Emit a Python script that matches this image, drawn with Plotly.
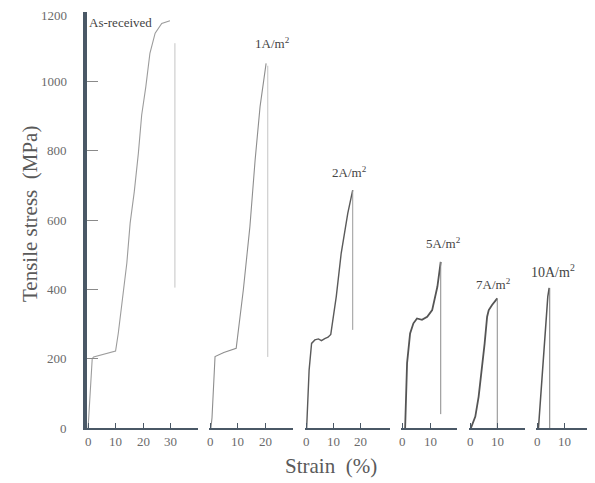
import plotly.graph_objects as go

# ---------------- data (strain %, tensile stress MPa) ----------------
ar_strain = [0, 1.5, 2.0, 6.0, 10.0, 11.0, 12.8, 14.1, 15.3, 16.8, 18.3, 19.5, 21.0, 22.5, 24.4, 26.8, 29.8]
ar_stress = [0, 200, 205, 214, 222, 274, 398, 476, 591, 681, 793, 903, 984, 1081, 1139, 1167, 1175]
ar_break_strain = [31.6, 31.6]
ar_break_stress = [1110, 405]

a1_strain = [0.3, 0.7, 1.8, 5.0, 9.5, 12.1, 14.5, 16.4, 18.2, 20.4]
a1_stress = [0, 30, 206, 218, 230, 398, 581, 773, 927, 1052]
a1_break_strain = [21.0, 21.0]
a1_break_stress = [1045, 205]

a2_strain = [0.2, 1.1, 2.0, 3.2, 4.5, 5.6, 6.8, 8.0, 9.0, 11.0, 12.8, 15.2, 17.0]
a2_stress = [0, 167, 244, 254, 257, 252, 258, 262, 270, 379, 504, 619, 686]
a2_break_strain = [17.0, 17.0]
a2_break_stress = [686, 283]

a5_strain = [0.8, 1.5, 2.6, 3.8, 5.1, 6.9, 8.8, 10.6, 12.5, 13.7]
a5_stress = [0, 187, 273, 302, 316, 312, 321, 340, 408, 479]
a5_break_strain = [13.7, 13.7]
a5_break_stress = [479, 40]

a7_strain = [0.3, 1.9, 3.1, 4.3, 5.3, 6.2, 6.8, 8.0, 9.3, 9.9]
a7_stress = [0, 33, 90, 167, 244, 321, 340, 355, 369, 374]
a7_break_strain = [9.9, 9.9]
a7_break_stress = [374, 0]

a10_strain = [0.5, 1.7, 2.9, 3.9, 4.4]
a10_stress = [0, 138, 283, 379, 404]
a10_break_strain = [4.6, 4.6]
a10_break_stress = [404, 0]

labels = ["As-received", "1A/m<sup>2</sup>", "2A/m<sup>2</sup>", "5A/m<sup>2</sup>", "7A/m<sup>2</sup>", "10A/m<sup>2</sup>"]
y_ticks = [0, 200, 400, 600, 800, 1000, 1200]
x_ticks = [[0, 10, 20, 30], [0, 10, 20], [0, 10, 20], [0, 10], [0, 10], [0, 10]]

# ---------------- figure ----------------
# the page body has an 8px margin, so the figure is laid out in window pixels minus 8
OFF = 8
W, H = 595 - OFF, 483 - OFF


def px(xw):
    return (xw - OFF) / W


def py(yw):
    return (H - (yw - OFF)) / H


fig = go.Figure()

series = [
    (ar_strain, ar_stress, ar_break_strain, ar_break_stress, "x", "#9c9c9c", 1.1, "#c4c4c4"),
    (a1_strain, a1_stress, a1_break_strain, a1_break_stress, "x2", "#8e8e8e", 1.1, "#c4c4c4"),
    (a2_strain, a2_stress, a2_break_strain, a2_break_stress, "x3", "#5a5a5a", 1.4, "#9a9a9a"),
    (a5_strain, a5_stress, a5_break_strain, a5_break_stress, "x4", "#555555", 1.8, "#8a8a8a"),
    (a7_strain, a7_stress, a7_break_strain, a7_break_stress, "x5", "#555555", 1.8, "#8a8a8a"),
    (a10_strain, a10_stress, a10_break_strain, a10_break_stress, "x6", "#555555", 1.5, "#7a7a7a"),
]
for sx, sy, bx, by, xa, col, w, bcol in series:
    fig.add_trace(go.Scatter(x=sx, y=sy, xaxis=xa, yaxis="y", mode="lines",
                             line=dict(color=col, width=w), showlegend=False,
                             hoverinfo="skip"))
    fig.add_trace(go.Scatter(x=bx, y=by, xaxis=xa, yaxis="y", mode="lines",
                             line=dict(color=bcol, width=1), showlegend=False,
                             hoverinfo="skip"))

axis_col = "#4a5866"
font_family = "Liberation Serif, Times New Roman, serif"
tick_font = dict(family=font_family, size=13, color="#6a6a6a")

# window-pixel extents (left, right) and ranges for each panel
panels = [
    ((87, 198), [-0.4, 40]),
    ((209, 293), [-0.4, 30.2]),
    ((305, 390), [-0.4, 30.6]),
    ((401, 457), [-0.7, 19.6]),
    ((469, 525), [-0.4, 20]),
    ((536, 592), [-0.4, 20]),
]
layout = {}
annotations = []
for i, ((l, r), rng) in enumerate(panels):
    name = "xaxis" if i == 0 else f"xaxis{i+1}"
    ref = "x" if i == 0 else f"x{i+1}"
    layout[name] = dict(
        domain=[px(l), min(px(r), 1.0)], range=rng, anchor="y",
        showline=True, linecolor=axis_col, linewidth=2,
        ticks="inside", ticklen=5, tickwidth=1.3, tickcolor=axis_col,
        tickmode="array", tickvals=x_ticks[i], showticklabels=False,
        showgrid=False, zeroline=False, automargin=False, fixedrange=True,
    )
    for v in x_ticks[i]:
        annotations.append(dict(text=str(v), x=v, xref=ref, y=py(441), yref="paper",
                                xanchor="center", yanchor="middle", showarrow=False,
                                font=tick_font))

layout["yaxis"] = dict(
    domain=[py(428), py(12)], range=[0, 1200], anchor="x",
    showline=True, linecolor=axis_col, linewidth=3.5,
    ticks="inside", ticklen=11, tickwidth=1, tickcolor="#8a8a8a",
    tickmode="array", tickvals=y_ticks, showticklabels=False,
    showgrid=False, zeroline=False, automargin=False, fixedrange=True,
)
# y tick labels (the top one nudged down so it stays inside the page)
for v in y_ticks:
    annotations.append(dict(text=str(v), x=px(69), xref="paper", y=v, yref="y",
                            xanchor="right", yanchor="middle", showarrow=False,
                            yshift=-3 if v == y_ticks[-1] else 0, font=tick_font))

lab_font = dict(family=font_family, size=13, color="#444444")
texts = [
    dict(text=labels[0], x=px(87), y=py(23), xanchor="left", yanchor="middle",
         font=dict(family=font_family, size=13, color="#444444")),
    dict(text=labels[1], x=px(272), y=py(43), xanchor="center", yanchor="middle", font=lab_font),
    dict(text=labels[2], x=px(349), y=py(172), xanchor="center", yanchor="middle", font=lab_font),
    dict(text=labels[3], x=px(443), y=py(243), xanchor="center", yanchor="middle", font=lab_font),
    dict(text=labels[4], x=px(493), y=py(284), xanchor="center", yanchor="middle", font=lab_font),
    dict(text=labels[5], x=px(553), y=py(271), xanchor="center", yanchor="middle",
         font=dict(family=font_family, size=14, color="#444444")),
    dict(text="Tensile stress  (MPa)", x=px(30), y=py(214), textangle=-90,
         xanchor="center", yanchor="middle",
         font=dict(family=font_family, size=21, color="#5a5a5a")),
    dict(text="Strain  (%)", x=px(331), y=py(466), xanchor="center", yanchor="middle",
         font=dict(family=font_family, size=21, color="#5a5a5a")),
]
for a in texts:
    a.update(xref="paper", yref="paper", showarrow=False)
annotations += texts

fig.update_layout(
    width=W, height=H, margin=dict(l=0, r=0, t=0, b=0),
    paper_bgcolor="white", plot_bgcolor="white",
    annotations=annotations, showlegend=False, **layout,
)

fig.write_html("out.html", config={"displayModeBar": False})
